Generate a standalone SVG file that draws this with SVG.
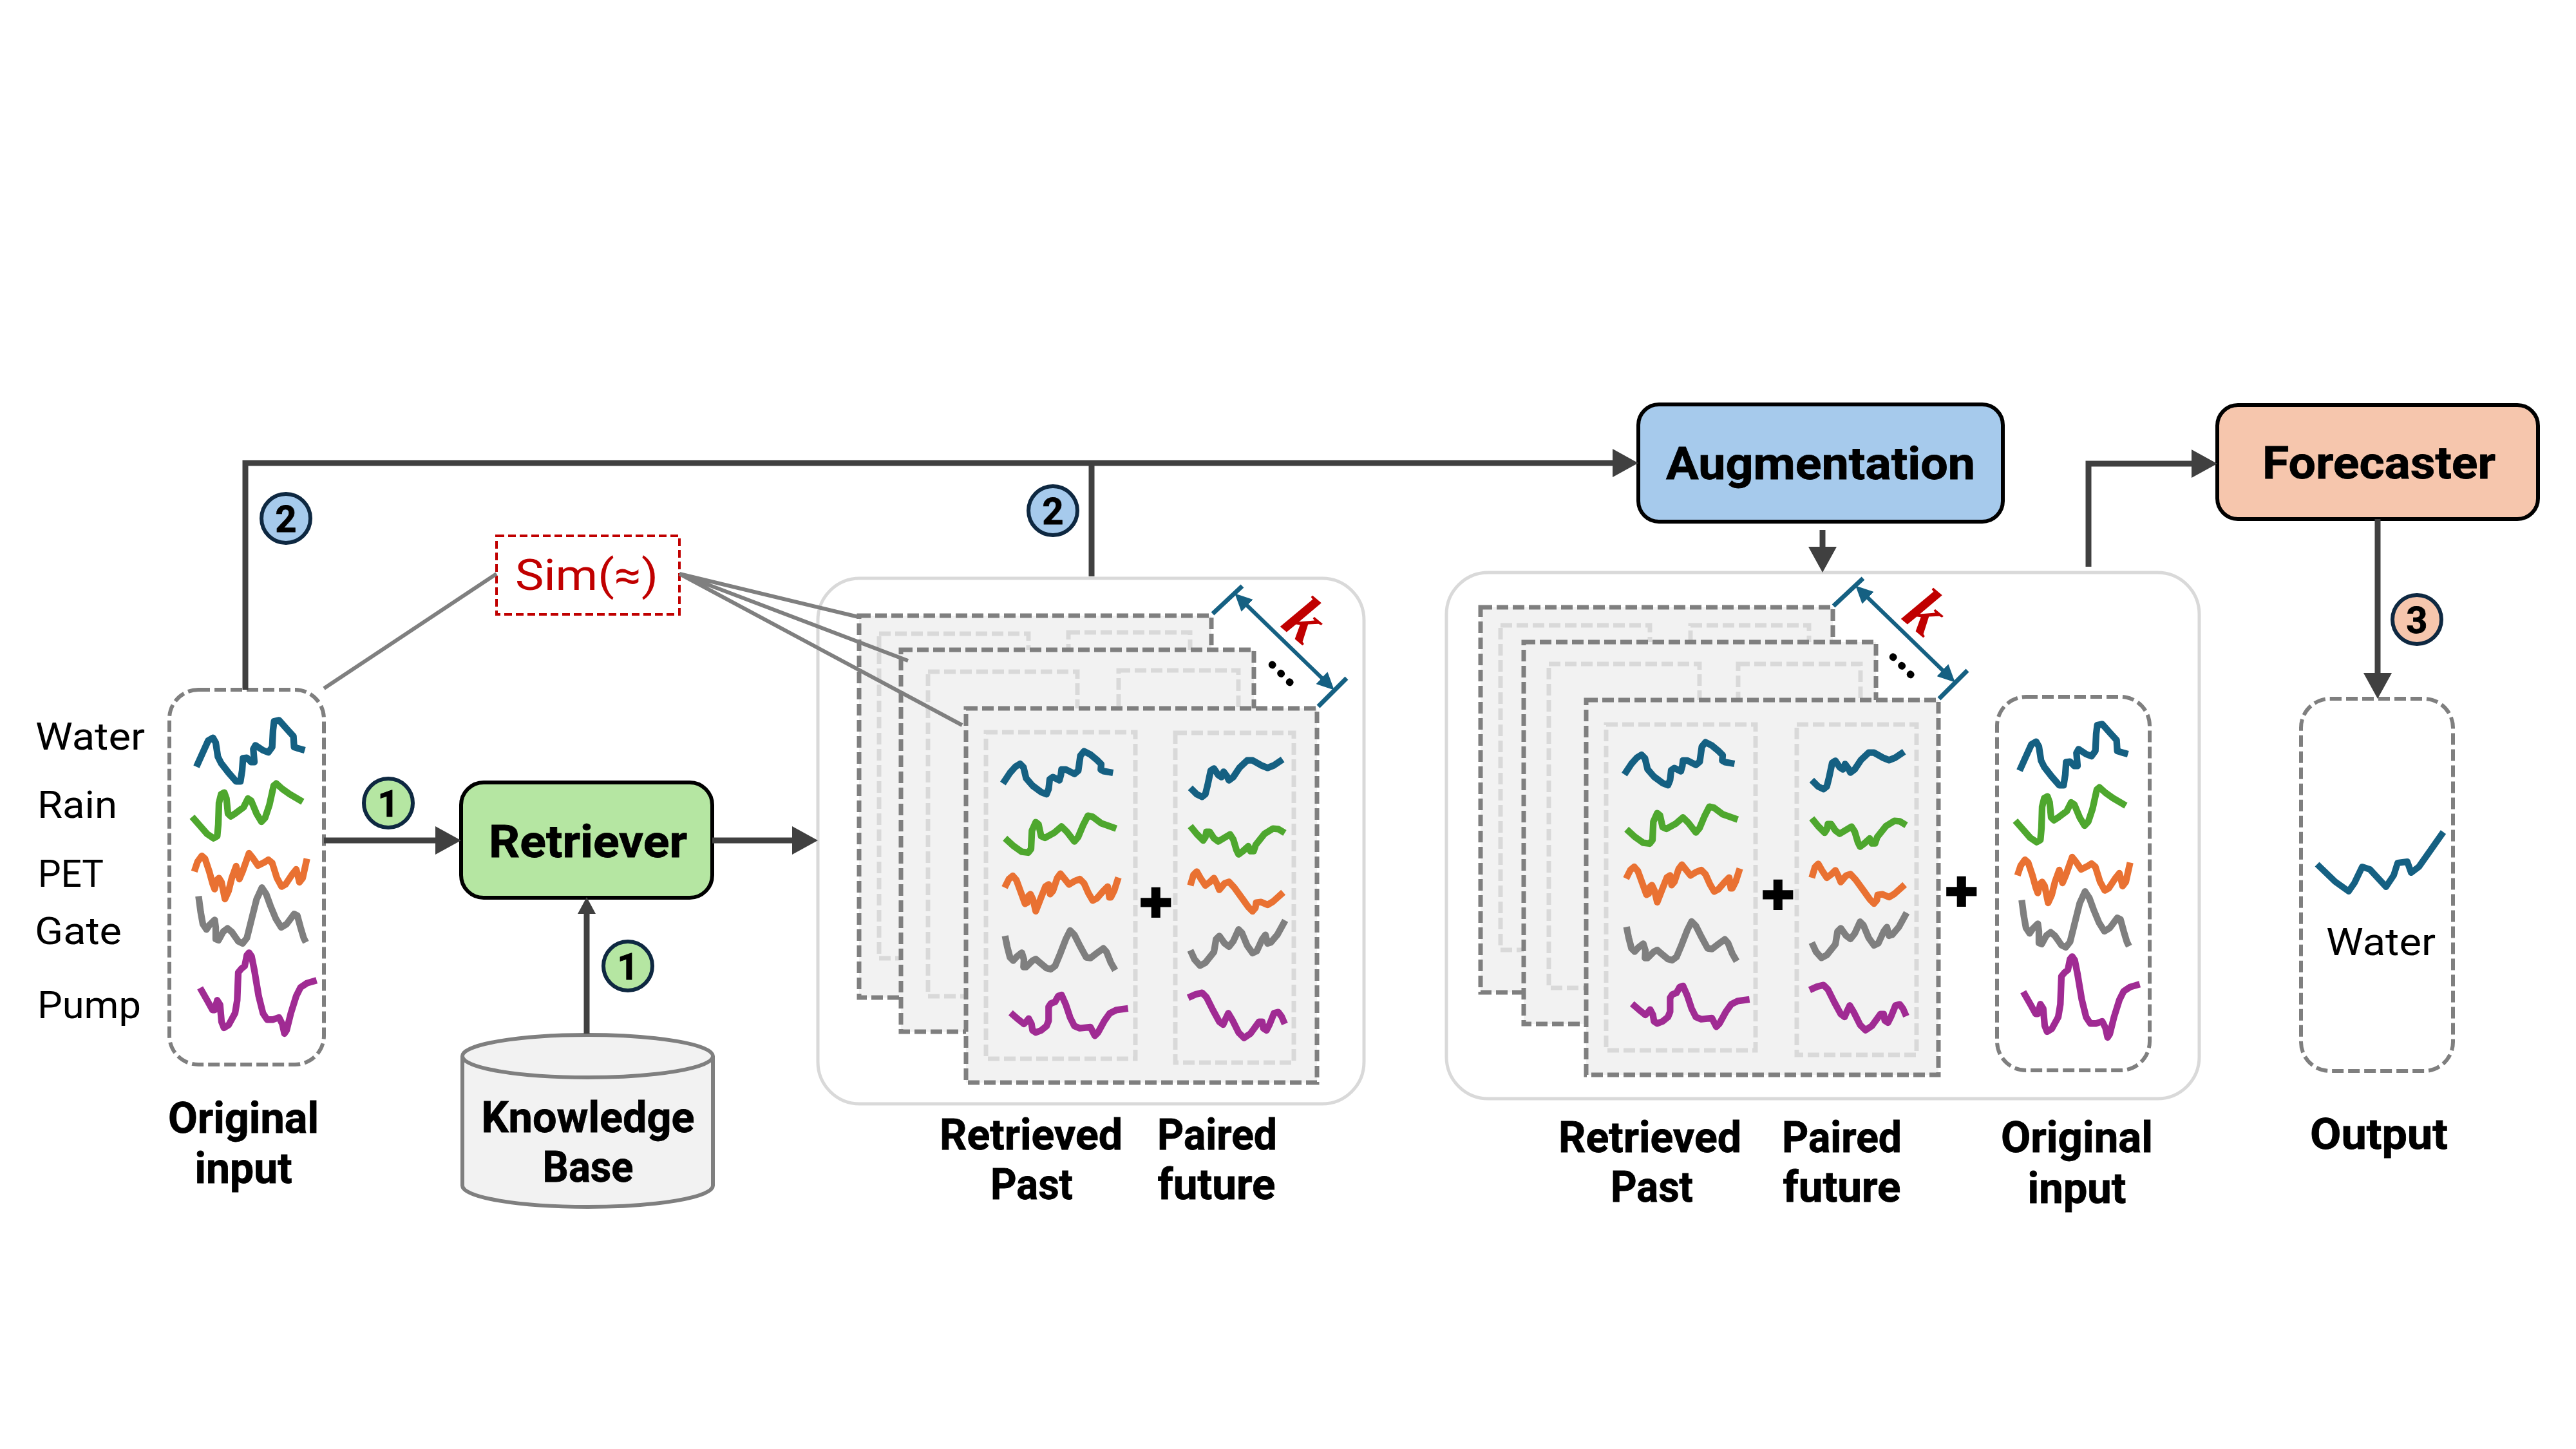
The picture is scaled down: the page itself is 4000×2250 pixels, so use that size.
<svg xmlns="http://www.w3.org/2000/svg" xmlns:xlink="http://www.w3.org/1999/xlink" width="4000" height="2250" viewBox="0 0 4000 2250">
<style>
text{font-family:Roboto,"Liberation Sans",sans-serif;fill:#000}
.b{font-weight:700;font-size:66px;text-anchor:middle;stroke:#000;stroke-width:.8}
.box{font-weight:700;font-size:70px;text-anchor:middle;stroke:#000;stroke-width:.8}
.r{font-size:60px}
.num{font-weight:700;font-size:58px;text-anchor:middle;stroke:#000;stroke-width:.8}
.proc{stroke:#000;stroke-width:6}
.badge{stroke:#0e2841;stroke-width:6}
.panel{fill:#fff;stroke:#d9d9d9;stroke-width:5}
.card{fill:#f2f2f2;stroke:#7f7f7f;stroke-width:7;stroke-dasharray:18 7}
.inner{fill:none;stroke:#d9d9d9;stroke-width:7;stroke-dasharray:18 7}
.holder{fill:#fff;stroke:#7f7f7f;stroke-width:6;stroke-dasharray:18 7}
.c{fill:none;stroke-width:31;stroke-linejoin:round}
.w{stroke:#156082}.g{stroke:#4ea72e}.o{stroke:#e97132}.y{stroke:#7f7f7f}.p{stroke:#a02b93}
.wire{fill:none;stroke:#404040;stroke-width:9}
.sim{fill:none;stroke:#7f7f7f;stroke-width:6}
.dim{fill:none;stroke:#156082;stroke-width:7}
.k{font-family:"Liberation Serif",serif;font-weight:700;font-style:italic;font-size:100px;fill:#c00000;text-anchor:middle}
.dots{font-family:"Noto Sans",sans-serif;font-weight:700;font-size:68px;text-anchor:middle}
.plus{font-family:"DejaVu Sans",sans-serif;font-size:62px;text-anchor:middle;stroke:#000;stroke-width:2}
</style>
<defs>
<marker id="ah" markerUnits="userSpaceOnUse" viewBox="0 0 40 44" markerWidth="40" markerHeight="44" refX="18" refY="22" orient="auto"><path d="M0,0L40,22L0,44Z" fill="#404040"/></marker>
<marker id="ahs" markerUnits="userSpaceOnUse" viewBox="0 0 26 28" markerWidth="26" markerHeight="28" refX="12" refY="14" orient="auto"><path d="M0,0L26,14L0,28Z" fill="#404040"/></marker>
<marker id="dh" markerUnits="userSpaceOnUse" viewBox="0 0 27 26" markerWidth="27" markerHeight="26" refX="12" refY="13" orient="auto-start-reverse"><path d="M0,0L27,13L0,26Z" fill="#156082"/></marker>
<g id="setA" transform="scale(.3333)">
<path class="c w" d="M75,272L105,205L130,150L152,137L165,160L175,225L190,255L225,300L260,340L280,340L288,290L292,232L310,230L330,250L345,250L340,190L350,172L385,195L410,205L428,180L432,100L437,60L460,55L500,100L527,130L530,180L545,185L580,195"/>
<path class="c g" d="M55,505L90,545L125,585L155,605L172,595L177,540L180,440L190,400L205,392L215,420L222,490L235,503L255,490L295,460L315,420L330,430L355,490L378,528L395,510L415,450L435,360L447,350L475,375L510,400L570,435"/>
<path class="c o" d="M65,760L80,715L100,687L115,700L135,760L150,815L160,842L170,800L180,790L192,810L208,888L225,850L240,790L260,735L268,770L275,795L290,760L320,675L340,700L362,732L395,715L410,705L428,720L450,790L472,830L490,820L520,775L540,750L548,780L555,810L570,790L590,700"/>
<g transform="translate(0,780)">
<path class="c y" d="M85,95L95,170L105,225L122,250L135,230L160,205L165,240L165,295L178,300L200,260L220,245L240,262L270,305L290,315L310,290L330,210L355,110L380,55L400,85L420,140L445,200L470,240L495,225L530,178L545,185L560,240L575,290L585,310"/>
<path class="c p" d="M92,522L125,580L150,625L160,625L172,580L185,600L192,680L203,708L225,695L255,640L265,580L270,450L285,432L300,420L310,370L320,358L332,375L345,440L365,560L385,640L405,670L430,670L460,660L475,690L485,735L495,720L515,640L540,560L560,520L590,500L635,487"/>
</g>
</g>
<g id="setB" transform="scale(.3333)">
<path class="c w" d="M52,200L85,150L110,122L132,108L148,125L160,175L190,210L230,240L255,250L265,225L270,180L285,170L315,185L322,160L325,135L345,135L385,155L403,140L413,70L430,50L460,65L490,90L510,110L508,135L520,142L565,150"/>
<path class="c g" d="M62,455L100,490L140,518L170,522L183,505L187,420L205,380L218,390L230,445L248,453L290,430L325,400L350,425L385,470L402,450L425,395L448,350L470,355L510,385L580,410"/>
<path class="c o" d="M60,685L80,645L98,630L115,650L135,705L155,760L165,755L170,725L180,715L192,740L205,795L230,730L250,680L265,670L272,715L285,700L305,640L320,620L340,645L360,670L385,655L410,645L430,665L450,710L470,745L490,735L520,700L540,680L548,730L555,730L570,700L590,638"/>
<g transform="translate(0,720)">
<path class="c y" d="M62,190L72,240L85,290L100,305L118,285L140,268L150,300L148,335L160,335L190,305L205,298L225,315L255,340L275,345L295,330L320,270L345,205L365,165L385,185L410,235L440,290L460,293L490,270L520,248L535,265L555,315L575,350"/>
<path class="c p" d="M88,548L125,580L150,600L160,590L172,575L185,600L190,630L205,640L230,630L255,610L265,585L265,520L275,505L295,497L310,470L325,465L345,510L365,570L385,610L410,620L460,615L470,635L480,655L495,640L525,585L550,550L580,535L635,528"/>
</g>
</g>
<g id="setC" transform="scale(.3333)">
<path class="c w" d="M55,220L85,250L110,262L125,250L135,210L150,140L165,130L185,160L200,170L210,145L225,165L235,185L255,170L285,125L320,92L345,92L385,115L415,127L445,115L485,88"/>
<path class="c g" d="M55,398L85,435L115,465L125,450L130,425L145,425L165,455L185,470L210,455L240,437L255,460L270,510L280,530L300,515L325,492L335,515L350,515L360,485L400,435L440,410L465,412L495,430"/>
<path class="c o" d="M55,675L70,625L85,610L105,645L125,675L145,660L165,640L180,670L190,695L215,665L235,658L260,685L300,740L325,775L345,795L358,780L362,755L385,752L415,765L440,750L488,707"/>
<g transform="translate(0,720)">
<path class="c y" d="M55,257L75,300L100,328L125,315L165,265L175,205L190,190L215,225L235,240L255,215L280,160L295,175L320,235L345,270L365,260L390,205L405,185L415,225L430,220L460,185L497,118"/>
<path class="c p" d="M45,478L80,462L110,455L130,475L160,535L190,590L208,603L220,575L232,550L250,580L280,640L305,665L335,645L375,590L390,590L395,620L410,630L425,600L445,550L465,545L480,565L495,600"/>
</g>
</g>
<g id="kmark">
<path class="dim" d="M1883,953L1929,910M2047,1097L2091,1053"/>
<path class="dim" style="stroke-width:6" d="M1928,932L2061,1061" marker-start="url(#dh)" marker-end="url(#dh)"/>
<text class="k" transform="translate(2027,963) rotate(40)" y="33">k</text>
<text class="dots" transform="translate(1990,1045) rotate(45)" y="6">...</text>
</g>
</defs>

<g id="labels">
<text class="r" x="55" y="1164" textLength="170" lengthAdjust="spacingAndGlyphs">Water</text>
<text class="r" x="58" y="1270" textLength="124" lengthAdjust="spacingAndGlyphs">Rain</text>
<text class="r" x="59" y="1377" textLength="102" lengthAdjust="spacingAndGlyphs">PET</text>
<text class="r" x="54" y="1466" textLength="135" lengthAdjust="spacingAndGlyphs">Gate</text>
<text class="r" x="58" y="1581" textLength="161" lengthAdjust="spacingAndGlyphs">Pump</text>
</g>

<g id="original-input">
<rect class="holder" x="263" y="1071" width="240" height="582" rx="45"/>
<use xlink:href="#setA" href="#setA" transform="translate(280,1100)"/>
<text class="b" x="378" y="1759" textLength="234" lengthAdjust="spacingAndGlyphs">Original</text>
<text class="b" x="378" y="1837" textLength="151" lengthAdjust="spacingAndGlyphs">input</text>
</g>

<g id="sim">
<rect x="771" y="832" width="284" height="122" fill="#fff" stroke="#c00000" stroke-width="4" stroke-dasharray="12 6"/>
<text x="800" y="916" font-size="66" style="fill:#c00000" textLength="222" lengthAdjust="spacingAndGlyphs">Sim(≈)</text>
</g>

<g id="retriever">
<rect class="proc" x="716" y="1215" width="390" height="179" rx="35" fill="#b5e6a2"/>
<text class="box" x="913" y="1331" textLength="308" lengthAdjust="spacingAndGlyphs">Retriever</text>
</g>

<g id="knowledge-base">
<path d="M718,1640V1841A194.5,33 0 0 0 1107,1841V1640A194.5,33 0 0 0 718,1640A194.5,33 0 0 0 1107,1640" fill="#f2f2f2" stroke="#7f7f7f" stroke-width="6"/>
<text class="b" x="913" y="1758" textLength="331" lengthAdjust="spacingAndGlyphs">Knowledge</text>
<text class="b" x="913" y="1835" textLength="141" lengthAdjust="spacingAndGlyphs">Base</text>
</g>

<g id="retrieved-panel">
<rect class="panel" x="1270" y="898" width="848" height="816" rx="65"/>
<rect class="card" x="1334" y="956" width="547" height="593"/>
<rect class="inner" x="1365" y="984" width="232" height="504"/>
<rect class="inner" x="1659" y="982" width="189" height="504"/>
<rect class="card" x="1399" y="1009" width="548" height="593"/>
<rect class="inner" x="1441" y="1043" width="232" height="504"/>
<rect class="inner" x="1737" y="1041" width="186" height="504"/>
<rect class="card" x="1500" y="1100" width="545" height="581"/>
<rect class="inner" x="1531" y="1137" width="232" height="507"/>
<rect class="inner" x="1825" y="1138" width="184" height="512"/>
<use xlink:href="#setB" href="#setB" transform="translate(1540,1150)"/>
<use xlink:href="#setC" href="#setC" transform="translate(1830,1150)"/>
<text class="plus" x="1795" y="1424">✚</text>
<use xlink:href="#kmark" href="#kmark"/>
<text class="b" x="1601" y="1785" textLength="284" lengthAdjust="spacingAndGlyphs">Retrieved</text>
<text class="b" x="1602" y="1862" textLength="128" lengthAdjust="spacingAndGlyphs">Past</text>
<text class="b" x="1890" y="1785" textLength="186" lengthAdjust="spacingAndGlyphs">Paired</text>
<text class="b" x="1889" y="1862" textLength="183" lengthAdjust="spacingAndGlyphs">future</text>
</g>

<g id="augmentation">
<rect class="proc" x="2544" y="628" width="566" height="182" rx="32" fill="#a6caec"/>
<text class="box" x="2827" y="744" textLength="480" lengthAdjust="spacingAndGlyphs">Augmentation</text>
</g>

<g id="augmented-panel">
<rect class="panel" x="2246" y="889" width="1169" height="817" rx="65"/>
<rect class="card" x="2299" y="943" width="547" height="598"/>
<rect class="inner" x="2330" y="971" width="232" height="504"/>
<rect class="inner" x="2625" y="971" width="184" height="504"/>
<rect class="card" x="2366" y="997" width="547" height="593"/>
<rect class="inner" x="2405" y="1031" width="234" height="503"/>
<rect class="inner" x="2699" y="1031" width="190" height="503"/>
<rect class="card" x="2463" y="1087" width="547" height="582"/>
<rect class="inner" x="2494" y="1125" width="232" height="506"/>
<rect class="inner" x="2790" y="1125" width="186" height="513"/>
<use xlink:href="#setB" href="#setB" transform="translate(2505,1136)"/>
<use xlink:href="#setC" href="#setC" transform="translate(2795,1138)"/>
<text class="plus" x="2761" y="1412">✚</text>
<text class="plus" x="3046" y="1407">✚</text>
<use xlink:href="#kmark" href="#kmark" transform="translate(964,-12)"/>
<rect class="holder" x="3101" y="1082" width="237" height="580" rx="45"/>
<use xlink:href="#setA" href="#setA" transform="translate(3111,1106)"/>
<text class="b" x="2562" y="1789" textLength="284" lengthAdjust="spacingAndGlyphs">Retrieved</text>
<text class="b" x="2565" y="1866" textLength="128" lengthAdjust="spacingAndGlyphs">Past</text>
<text class="b" x="2860" y="1789" textLength="186" lengthAdjust="spacingAndGlyphs">Paired</text>
<text class="b" x="2860" y="1866" textLength="183" lengthAdjust="spacingAndGlyphs">future</text>
<text class="b" x="3225" y="1789" textLength="236" lengthAdjust="spacingAndGlyphs">Original</text>
<text class="b" x="3225" y="1868" textLength="153" lengthAdjust="spacingAndGlyphs">input</text>
</g>

<g id="forecaster">
<rect class="proc" x="3443" y="629" width="498" height="177" rx="32" fill="#f6c6ad"/>
<text class="box" x="3694" y="743" textLength="362" lengthAdjust="spacingAndGlyphs">Forecaster</text>
</g>

<g id="output">
<rect class="holder" x="3573" y="1085" width="236" height="578" rx="45"/>
<path fill="none" stroke="#156082" stroke-width="10" stroke-linejoin="round" d="M3598,1342L3626,1369L3647,1384L3656,1371L3668,1346L3680,1350L3705,1377L3717,1359L3723,1340L3738,1338L3744,1355L3756,1346L3794,1292"/>
<text class="r" x="3612" y="1483" textLength="170" lengthAdjust="spacingAndGlyphs">Water</text>
<text class="b" x="3694" y="1784" textLength="214" lengthAdjust="spacingAndGlyphs">Output</text>
</g>

<g id="connectors">
<path class="sim" d="M503,1069L771,891"/>
<path class="sim" d="M1055,891L1333,958M1055,891L1410,1026M1055,891L1494,1126"/>
<path class="wire" d="M503,1305H694" marker-end="url(#ah)"/>
<path class="wire" d="M1106,1305H1248" marker-end="url(#ah)"/>
<path class="wire" d="M911,1605V1407" marker-end="url(#ahs)"/>
<path class="wire" d="M381,1071V719H2522" marker-end="url(#ah)"/>
<path class="wire" d="M1695,719V895"/>
<path class="wire" d="M2830,823V867" marker-end="url(#ah)"/>
<path class="wire" d="M3243,880V720H3421" marker-end="url(#ah)"/>
<path class="wire" d="M3692,806V1063" marker-end="url(#ah)"/>
</g>

<g id="badges">
<g id="badge-1a"><circle class="badge" cx="603" cy="1247" r="38" fill="#b5e6a2"/><text class="num" x="603" y="1268">1</text></g>
<g id="badge-1b"><circle class="badge" cx="975" cy="1500" r="38" fill="#b5e6a2"/><text class="num" x="975" y="1521">1</text></g>
<g id="badge-2a"><circle class="badge" cx="444" cy="805" r="38" fill="#a6caec"/><text class="num" x="444" y="826">2</text></g>
<g id="badge-2b"><circle class="badge" cx="1635" cy="793" r="38" fill="#a6caec"/><text class="num" x="1635" y="814">2</text></g>
<g id="badge-3"><circle class="badge" cx="3753" cy="962" r="38" fill="#f6c6ad"/><text class="num" x="3753" y="983">3</text></g>
</g>
</svg>
